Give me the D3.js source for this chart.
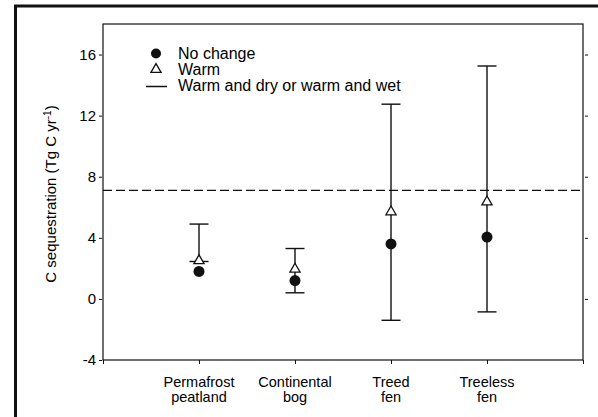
<!DOCTYPE html>
<html><head><meta charset="utf-8">
<script src="https://cdn.jsdelivr.net/npm/d3@7/dist/d3.min.js"></script>
<style>body{margin:0;background:#fff}svg{display:block}text{font-family:"Liberation Sans",Arial,sans-serif;fill:#000}</style>
</head><body><svg id="c" width="598" height="417"></svg>
<script>
const categories = [["Permafrost","peatland"],["Continental","bog"],["Treed","fen"],["Treeless","fen"]];
const noChange = [1.8, 1.2, 3.6, 4.05];
const warm = [2.5, 1.95, 5.7, 6.35];
const rangeLow = [2.45, 0.4, -1.4, -0.85];
const rangeHigh = [4.9, 3.3, 12.75, 15.25];
const refLine = 7.1;
const yTicks = [-4, 0, 4, 8, 12, 16];
const legendLabels = ["No change","Warm","Warm and dry or warm and wet"];

const svg = d3.select("#c");
const L=103,R=583,T=24,B=360;
const x = d3.scaleLinear().domain([0,5]).range([L,R]);
const y = d3.scaleLinear().domain([-4,18]).range([B,T]);
const ink="#111";

// outer frame
svg.append("line").attr("x1",15.5).attr("x2",15.5).attr("y1",5).attr("y2",417).attr("stroke",ink).attr("stroke-width",3);
svg.append("line").attr("x1",14).attr("x2",598).attr("y1",6).attr("y2",6).attr("stroke",ink).attr("stroke-width",3);

// plot box
svg.append("rect").attr("x",L).attr("y",T).attr("width",R-L).attr("height",B-T).attr("fill","none").attr("stroke",ink).attr("stroke-width",1.2);

// left axis
const yl = svg.append("g").attr("transform",`translate(${L-1},0)`).call(d3.axisLeft(y).tickValues(yTicks).tickSize(3).tickPadding(3).tickFormat(d=>String(d)));
yl.select(".domain").remove();
yl.selectAll("text").style("font-size","15px").attr("fill","#000");
yl.selectAll("line").attr("stroke",ink);
// right axis ticks
const yr = svg.append("g").attr("transform",`translate(${R+2},0)`).call(d3.axisRight(y).tickValues(yTicks.slice(1)).tickSize(3).tickFormat(""));
yr.select(".domain").remove();
yr.selectAll("line").attr("stroke",ink);

// bottom ticks
const xb = svg.append("g").attr("transform",`translate(0,${B})`).call(d3.axisBottom(x).tickValues([0,1,2,3,4,5]).tickSize(4).tickFormat(""));
xb.select(".domain").remove();
xb.selectAll("line").attr("stroke",ink);

// category labels
categories.forEach((c,i)=>{
  svg.append("text").attr("x",x(i+1)).attr("y",387).attr("text-anchor","middle").style("font-size","14.5px").text(c[0]);
  svg.append("text").attr("x",x(i+1)).attr("y",402).attr("text-anchor","middle").style("font-size","14.5px").text(c[1]);
});

// axis title
const at = svg.append("text").attr("transform","translate(56,194) rotate(-90)").attr("text-anchor","middle").style("font-size","15px");
at.append("tspan").text("C sequestration (Tg C yr");
at.append("tspan").attr("dy",-5).style("font-size","10px").text("-1");
at.append("tspan").attr("dy",5).text(")");

// reference dashed line
svg.append("line").attr("x1",L).attr("x2",R).attr("y1",y(refLine)).attr("y2",y(refLine)).attr("stroke",ink).attr("stroke-width",1.2).attr("stroke-dasharray","9,4");

// error bars
const g = svg.append("g");
categories.forEach((c,i)=>{
  const cx = x(i+1);
  g.append("line").attr("x1",cx).attr("x2",cx).attr("y1",y(rangeLow[i])).attr("y2",y(rangeHigh[i])).attr("stroke",ink).attr("stroke-width",1.4);
  [rangeLow[i],rangeHigh[i]].forEach(v=>{
    g.append("line").attr("x1",cx-9.5).attr("x2",cx+9.5).attr("y1",y(v)).attr("y2",y(v)).attr("stroke",ink).attr("stroke-width",1.4);
  });
});
// markers
const tri = d3.symbol().type(d3.symbolTriangle).size(45);
g.selectAll(".w").data(warm).join("path").attr("d",tri).attr("transform",(d,i)=>`translate(${x(i+1)},${y(d)})`).attr("fill","#fff").attr("stroke",ink).attr("stroke-width",1.3);
g.selectAll(".n").data(noChange).join("circle").attr("cx",(d,i)=>x(i+1)).attr("cy",d=>y(d)).attr("r",5.5).attr("fill",ink);

// legend
const lg = svg.append("g");
lg.append("circle").attr("cx",156).attr("cy",53.5).attr("r",5).attr("fill",ink);
lg.append("path").attr("d",tri).attr("transform","translate(156,69.5)").attr("fill","#fff").attr("stroke",ink).attr("stroke-width",1.3);
lg.append("line").attr("x1",146).attr("x2",167).attr("y1",86.5).attr("y2",86.5).attr("stroke",ink).attr("stroke-width",1.5);
legendLabels.forEach((l,i)=>{
  lg.append("text").attr("x",178).attr("y",58.5+i*16.3).style("font-size","16px").text(l);
});
</script></body></html>
